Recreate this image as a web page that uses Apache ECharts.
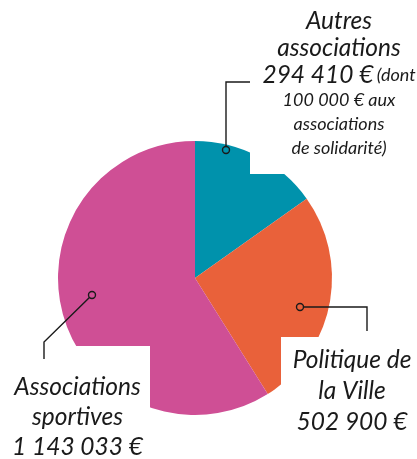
<!DOCTYPE html>
<html><head><meta charset="utf-8">
<script src="https://cdn.jsdelivr.net/npm/echarts@6/dist/echarts.min.js"></script>
<style>html,body{margin:0;padding:0;background:#fff}#c{width:417px;height:459px}</style>
</head><body><div id="c"></div>
<script>
// Data
const categories = ['Autres associations', 'Politique de la Ville', 'Associations sportives'];
const values = [294410, 502900, 1143033];
const valueTexts = ['294 410 €', '502 900 €', '1 143 033 €'];
const colors = ['#0092ac', '#e9613a', '#cf4f95'];

// Label texts (rich)
const labelTexts = [
  '{big|Autres}\n{big|associations}\n{big|' + valueTexts[0] + '} {sm|(dont}\n{sm|100 000 € aux}\n{sm|associations}\n{sm|de solidarité)}',
  '{big|Politique de}\n{big|la Ville}\n{big|' + valueTexts[1] + '}',
  '{big|Associations}\n{big|sportives}\n{big|' + valueTexts[2] + '}'
];

// Annotation layout (label boxes, leader lines)
const labelBoxes = [
  {x: 333.5, y: 0, width: 156, padding: [7.5, 0, 13.5, 11], lh: 27},
  {x: 352, y: 337, width: 142, padding: [7.5, 0, 10, 0], lh: 31},
  {x: 77.5, y: 346, width: 145, padding: [26, 0, 10, 0], lh: 30}
];
const leaderLines = [
  [[226, 150], [226, 82], [250, 82]],
  [[300, 307], [367, 307], [367, 331]],
  [[92, 295], [44, 342], [44, 359]]
];

const FONT = 'Lato';
const chart = echarts.init(document.getElementById('c'), null, {renderer: 'canvas'});
const data = categories.map((name, i) => ({
  name: name,
  value: values[i],
  itemStyle: {color: colors[i]},
  label: {
    formatter: () => labelTexts[i],
    backgroundColor: '#ffffff',
    width: labelBoxes[i].width,
    overflow: 'none',
    padding: labelBoxes[i].padding,
    align: 'center',
    rich: {
      big: {fontFamily: FONT, fontStyle: 'italic', fontSize: 24.5, color: '#1a1a1a', lineHeight: labelBoxes[i].lh, align: 'center'},
      sm: {fontFamily: FONT, fontStyle: 'italic', fontSize: 18, color: '#1a1a1a', lineHeight: 24, align: 'center'}
    }
  }
}));

chart.setOption({
  animation: false,
  series: [{
    type: 'pie',
    center: [195, 278],
    radius: [0, 137],
    startAngle: 90,
    clockwise: true,
    avoidLabelOverlap: false,
    data: data,
    label: {show: true, position: 'outside'},
    labelLine: {show: false},
    emphasis: {disabled: true},
    labelLayout: function (p) {
      const i = p.dataIndex;
      return {
        x: labelBoxes[i].x,
        y: labelBoxes[i].y,
        align: 'center',
        verticalAlign: 'top'
      };
    }
  }],
  graphic: leaderLines.map((pts) => ({
    type: 'polyline',
    shape: {points: pts},
    style: {stroke: '#1a1a1a', lineWidth: 1.4, fill: null},
    z: 100
  })).concat(leaderLines.map((pts, i) => ({
    type: 'circle',
    shape: {cx: pts[0][0], cy: pts[0][1], r: 3.5},
    style: {fill: colors[i], stroke: '#1a1a1a', lineWidth: 1.4},
    z: 101
  })))
});
</script></body></html>
